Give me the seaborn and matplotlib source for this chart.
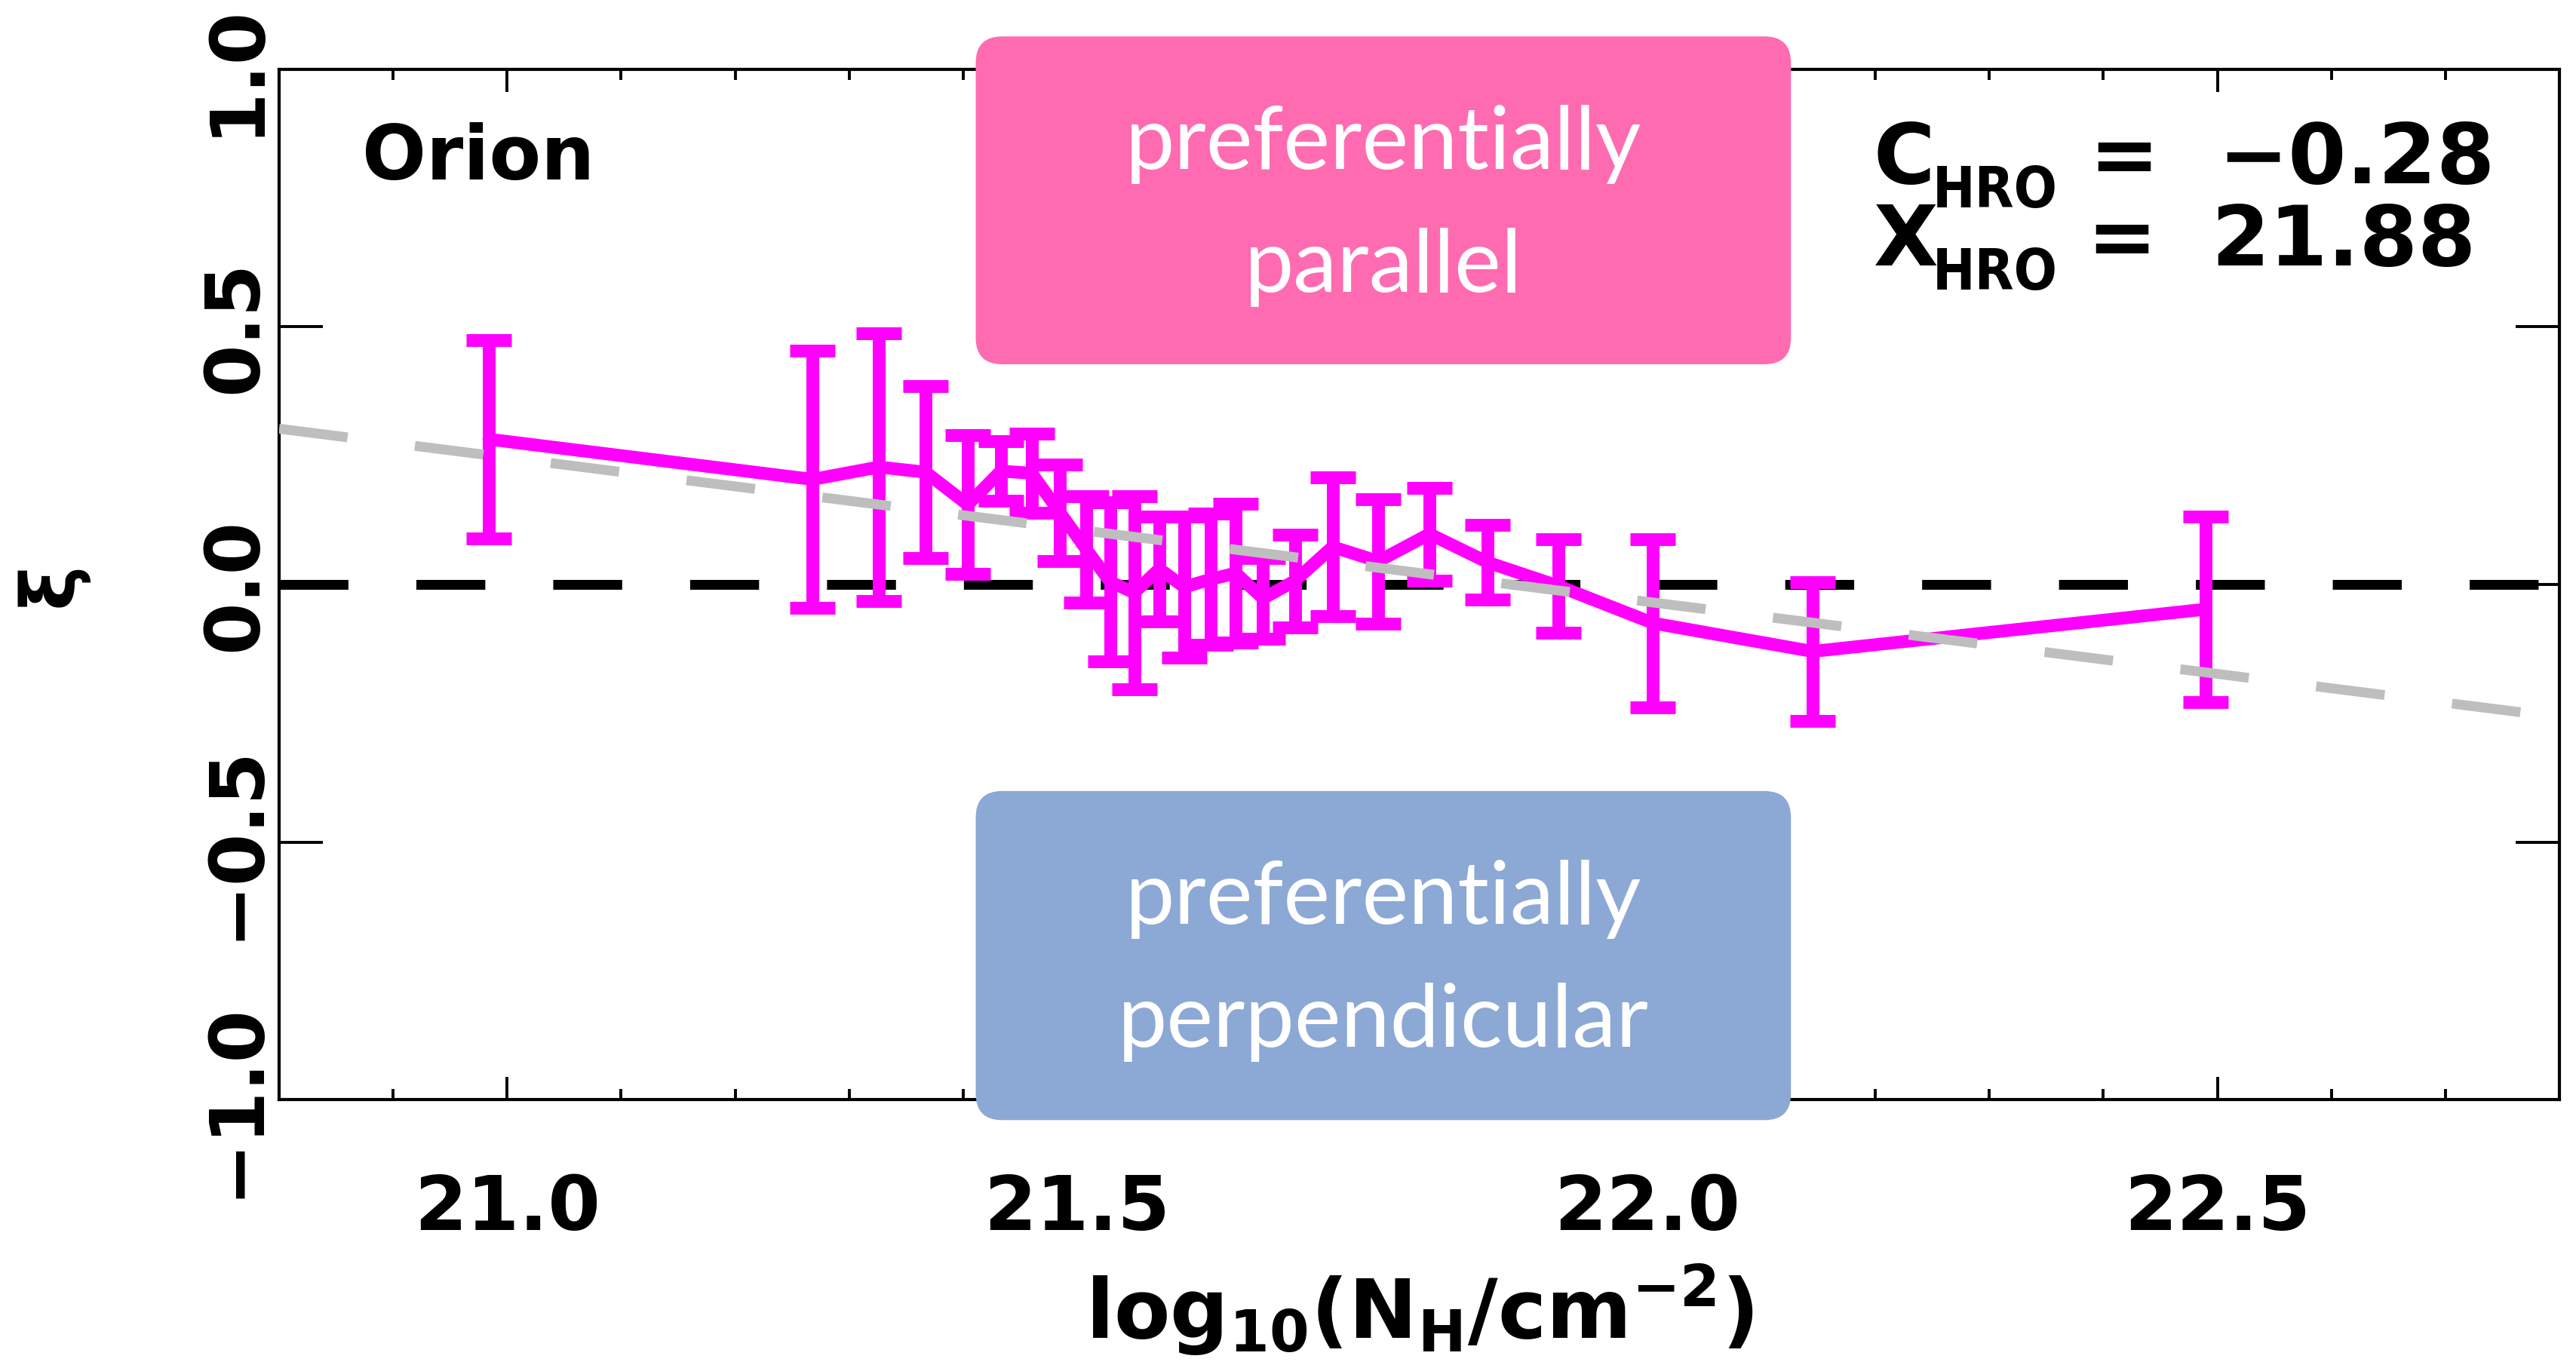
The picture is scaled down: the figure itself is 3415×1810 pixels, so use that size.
import numpy as np
import pandas as pd
import matplotlib
matplotlib.use("Agg")
import matplotlib.pyplot as plt
import seaborn as sns
from matplotlib.patches import FancyBboxPatch
from matplotlib.ticker import FixedLocator, FixedFormatter, MultipleLocator, NullLocator

# ---------------- data ----------------
log_nh = [20.984, 21.268, 21.326, 21.367, 21.404, 21.433, 21.460, 21.485, 21.508,
          21.529, 21.550, 21.572, 21.594, 21.617, 21.639, 21.663, 21.691, 21.724,
          21.764, 21.809, 21.860, 21.922, 22.005, 22.145, 22.490]
xi = [0.282, 0.204, 0.228, 0.218, 0.155, 0.220, 0.216, 0.139, 0.068,
      0.005, -0.016, 0.030, -0.005, 0.010, 0.022, -0.027, 0.007, 0.073,
      0.045, 0.098, 0.043, -0.003, -0.075, -0.130, -0.048]
xi_err = [0.193, 0.250, 0.260, 0.167, 0.135, 0.058, 0.077, 0.094, 0.103,
          0.155, 0.187, 0.102, 0.137, 0.127, 0.135, 0.078, 0.090, 0.135,
          0.121, 0.090, 0.072, 0.091, 0.163, 0.135, 0.180]
c_hro = -0.28
x_hro = 21.88
region_name = "Orion"
xtick_vals = [21.0, 21.5, 22.0, 22.5]
xtick_labels = ["21.0", "21.5", "22.0", "22.5"]
ytick_vals = [-1.0, -0.5, 0.0, 0.5, 1.0]
ytick_labels = ["\u22121.0", "\u22120.5", "0.0", "0.5", "1.0"]
box_top_lines = ["preferentially", "parallel"]
box_bottom_lines = ["preferentially", "perpendicular"]

# ---------------- style ----------------
sns.set_style("ticks")
plt.rcParams["font.family"] = ["DejaVu Sans"]
plt.rcParams["font.weight"] = "bold"
plt.rcParams["mathtext.fontset"] = "dejavusans"
for k in ["text.color", "axes.labelcolor", "xtick.color", "ytick.color", "axes.edgecolor"]:
    plt.rcParams[k] = "black"

W, H, DPI = 3415, 1810, 200
fig = plt.figure(figsize=(W / DPI, H / DPI), dpi=DPI)
fig.patch.set_facecolor("white")
AX_L, AX_R, AX_T, AX_B = 370, 3393, 92, 1458
ax = fig.add_axes([AX_L / W, 1 - AX_B / H, (AX_R - AX_L) / W, (AX_B - AX_T) / H])

def fx(px):
    return (px - AX_L) / (AX_R - AX_L)

def fy(py):
    return (AX_B - py) / (AX_B - AX_T)

df = pd.DataFrame({"log_nh": log_nh, "xi": xi, "err": xi_err})

MAG = "#FF00FF"
dash = (0, (7.0, 6.9))
ax.axhline(0, color="black", lw=4.7, ls=dash, zorder=1)
sns.lineplot(data=df, x="log_nh", y="xi", color=MAG, lw=6.1, sort=False,
             ax=ax, zorder=2)
ax.errorbar(df["log_nh"], df["xi"], yerr=df["err"], fmt="none", ecolor=MAG,
            elinewidth=6.1, capsize=10.8, capthick=6.1, zorder=2)
xfit = np.array([20.8, 22.8])
ax.plot(xfit, c_hro * (xfit - x_hro), color="#BEBEBE", lw=4.7, ls=dash, zorder=3)

# ---------------- boxes ----------------
bx0, bx1 = 21.411, 22.126
bxc = 0.5 * (bx0 + bx1)
r = 0.0232

def add_box(y0, y1, color, lines, baselines):
    p = FancyBboxPatch((bx0, y0), bx1 - bx0, y1 - y0,
                       boxstyle=f"round,pad=0,rounding_size={r}",
                       mutation_aspect=2.21, transform=ax.transData,
                       facecolor=color, edgecolor="none", clip_on=False, zorder=6)
    ax.add_patch(p)
    for t, b in zip(lines, baselines):
        ax.text(bxc, b, t, ha="center", va="baseline", color="white",
                fontsize=42, family=["Lato", "DejaVu Sans"], fontweight="normal",
                zorder=7)

add_box(0.4275, 1.064, "#FF6BB1", box_top_lines, [0.807, 0.568])
add_box(-1.04, -0.401, "#8CA8D5", box_bottom_lines, [-0.659, -0.8975])

# ---------------- axes ----------------
ax.set_xlim(20.8, 22.8)
ax.set_ylim(-1, 1)
ax.xaxis.set_major_locator(FixedLocator(xtick_vals))
ax.xaxis.set_major_formatter(FixedFormatter(xtick_labels))
ax.xaxis.set_minor_locator(MultipleLocator(0.1))
ax.yaxis.set_major_locator(FixedLocator(ytick_vals))
ax.yaxis.set_major_formatter(FixedFormatter(ytick_labels))
ax.yaxis.set_minor_locator(NullLocator())
ax.tick_params(axis="both", which="both", direction="in", top=True, right=True,
               color="black", labelcolor="black")
ax.tick_params(axis="x", which="major", length=10.8, width=1.4, pad=35, labelsize=36)
ax.tick_params(axis="x", which="minor", length=5, width=1.4)
ax.tick_params(axis="y", which="major", length=21, width=1.4, pad=3, labelsize=36,
               labelrotation=90)
for lab in ax.get_yticklabels():
    lab.set_va("center")
    lab.set_ha("right")
for s in ax.spines.values():
    s.set_linewidth(1.5)
    s.set_color("black")
    s.set_visible(True)

ax.set_xlabel(r"log$_{\mathregular{10}}$(N$_{\mathregular{H}}$/cm$^{\mathregular{-2}}$)",
              fontsize=39, fontweight="bold", color="black")
ax.xaxis.set_label_coords(0.5, fy(1775))
ax.xaxis.label.set_va("baseline")
ax.set_ylabel("\u03be", fontsize=36, fontweight="bold", rotation=90, color="black")
ax.yaxis.set_label_coords(fx(68), 0.5)
ax.yaxis.label.set_va("center")
ax.yaxis.label.set_ha("center")

# ---------------- annotations ----------------
ax.text(fx(480), fy(238), region_name, transform=ax.transAxes, fontsize=36,
        fontweight="bold", ha="left", va="baseline", color="black")
val_c = f"{c_hro:.2f}".replace("-", "\u2212")
val_x = f"{x_hro:.2f}"
for sym, val, base, vx, ex in [("C", val_c, 243, 2940, 2816),
                               ("X", val_x, 352, 2931, 2813)]:
    ax.text(fx(2484), fy(base), sym, transform=ax.transAxes, fontsize=40,
            fontweight="bold", ha="left", va="baseline", color="black")
    ax.text(fx(2562), fy(base + 32), "HRO", transform=ax.transAxes, fontsize=27,
            fontweight="bold", fontstretch="condensed", ha="left", va="baseline",
            color="black")
    ax.text(fx(ex), fy(base), "=", transform=ax.transAxes, fontsize=40,
            fontweight="bold", ha="center", va="baseline", color="black")
    ax.text(fx(vx), fy(base), val, transform=ax.transAxes, fontsize=40,
            fontweight="bold", ha="left", va="baseline", color="black")

fig.savefig("out.png", dpi=DPI, facecolor="white")
